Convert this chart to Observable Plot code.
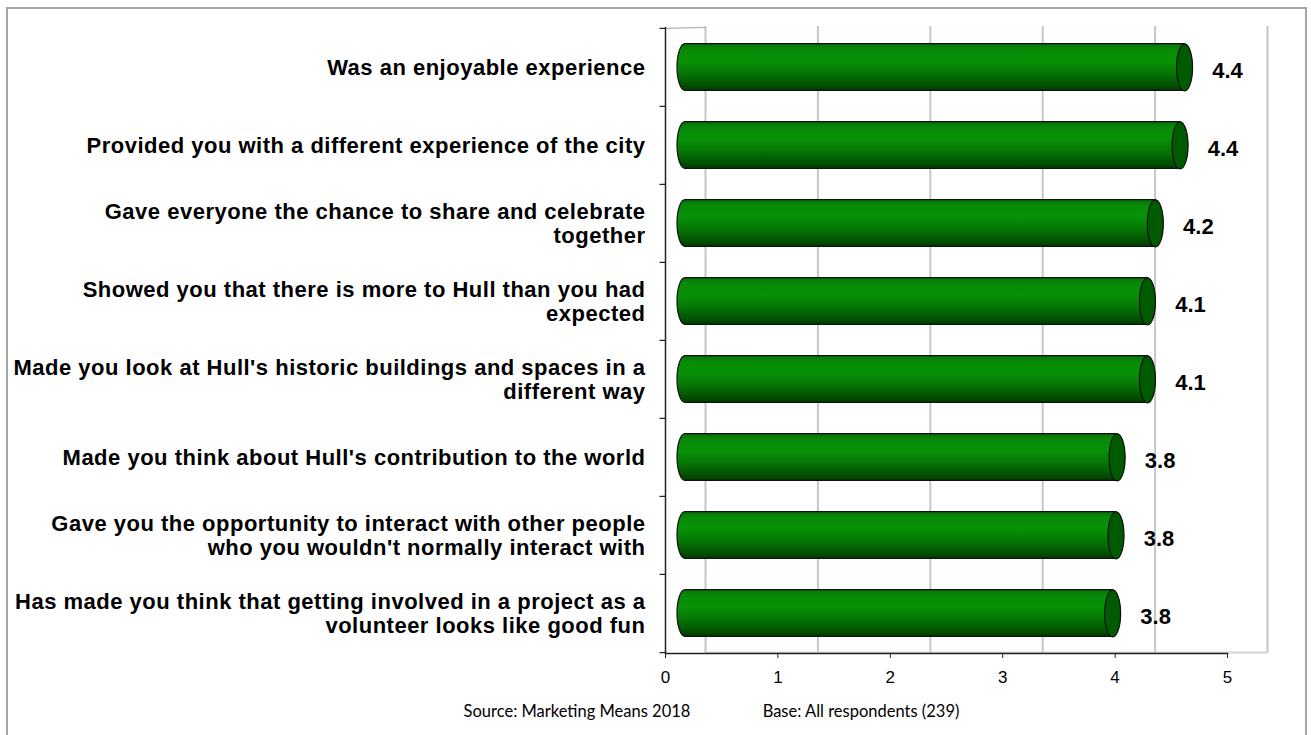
<!DOCTYPE html>
<html>
<head>
<meta charset="utf-8">
<script src="https://cdn.jsdelivr.net/npm/d3@7"></script>
<script src="https://cdn.jsdelivr.net/npm/@observablehq/plot@0.6"></script>
<style>
  html, body { margin: 0; padding: 0; background: #fff; width: 1311px; height: 735px; overflow: hidden; }
  #wrap { position: relative; width: 1311px; height: 735px; }
  #border { position: absolute; left: 6px; top: 7px; width: 1301px; height: 760px; border: 2px solid #a6a6a6; box-sizing: border-box; }
  #chart { position: absolute; left: 0; top: 0; }
  #chart g[aria-label="y-axis tick label"] { letter-spacing: 0.5px; }
  #footer { position: absolute; left: 0; top: 700px; width: 1311px; height: 30px; font-family: Lato, "Open Sans", sans-serif; font-size: 16.5px; color: #000; }
  #footer span { position: absolute; top: 1px; white-space: nowrap; transform: translateX(-50%); }
</style>
</head>
<body>
<div id="wrap">
  <div id="border"></div>
  <div id="chart"></div>
  <div id="footer"><span id="src" style="left:577px">Source: Marketing Means 2018</span><span id="base" style="left:861px">Base: All respondents (239)</span></div>
</div>
<script>
const categories = [
  "Was an enjoyable experience",
  "Provided you with a different experience of the city",
  "Gave everyone the chance to share and celebrate together",
  "Showed you that there is more to Hull than you had expected",
  "Made you look at Hull's historic buildings and spaces in a different way",
  "Made you think about Hull's contribution to the world",
  "Gave you the opportunity to interact with other people who you wouldn't normally interact with",
  "Has made you think that getting involved in a project as a volunteer looks like good fun"
];
const tickLabels = [
  "Was an enjoyable experience",
  "Provided you with a different experience of the city",
  "Gave everyone the chance to share and celebrate\ntogether",
  "Showed you that there is more to Hull than you had\nexpected",
  "Made you look at Hull's historic buildings and spaces in a\ndifferent way",
  "Made you think about Hull's contribution to the world",
  "Gave you the opportunity to interact with other people\nwho you wouldn't normally interact with",
  "Has made you think that getting involved in a project as a\nvolunteer looks like good fun"
];
const values = [4.44, 4.40, 4.18, 4.11, 4.11, 3.84, 3.83, 3.80];
const xTicks = [0, 1, 2, 3, 4, 5];

const data = categories.map((c, i) => ({category: c, value: values[i]}));

const W = 1311, H = 700, mT = 27, mB = 47, mL = 665, mR = 84;
const band = (H - mT - mB) / categories.length;
const depthX = 40, depthY = -1;
const capRx = 8, capRy = 23.5;
const barH = 47;

const ellipse = {
  draw(ctx) {
    const k = 0.5523, a = capRx, b = capRy;
    ctx.moveTo(a, 0);
    ctx.bezierCurveTo(a, k * b, k * a, b, 0, b);
    ctx.bezierCurveTo(-k * a, b, -a, k * b, -a, 0);
    ctx.bezierCurveTo(-a, -k * b, -k * a, -b, 0, -b);
    ctx.bezierCurveTo(k * a, -b, a, -k * b, a, 0);
    ctx.closePath();
  }
};
const sepTick = { draw(ctx) { ctx.moveTo(-6, 0); ctx.lineTo(0, 0); } };
const sideTop = { draw(ctx) { ctx.moveTo(0, 0); ctx.lineTo(depthX, depthY); } };

const chart = Plot.plot({
  width: W, height: H,
  marginTop: mT, marginBottom: mB, marginLeft: mL, marginRight: mR,
  x: {domain: [0, 5]},
  y: {domain: categories, padding: 0, axis: null},
  style: {fontFamily: "'Liberation Sans', Arial, sans-serif", background: "transparent", color: "black"},
  marks: [
    // back wall gridlines
    Plot.ruleX(xTicks, {dx: depthX, dy: depthY, stroke: "#c6c6c6", strokeWidth: 2}),
    Plot.frame({anchor: "bottom", dx: depthX, dy: depthY, stroke: "#d4d4d4", strokeWidth: 2}),
    Plot.dot([categories[0]], {x: () => 0, y: d => d, dy: -band / 2, symbol: sideTop, fill: "none", stroke: "#b0b0b0", strokeWidth: 1.5}),
    // axes lines
    Plot.ruleX([0], {stroke: "#222", strokeWidth: 1.5}),
    Plot.frame({anchor: "bottom", stroke: "#222", strokeWidth: 1.5}),
    Plot.dot(categories, {x: () => 0, y: d => d, dy: -band / 2, symbol: sepTick, fill: "none", stroke: "#222", strokeWidth: 1.2}),
    Plot.dot([categories[categories.length - 1]], {x: () => 0, y: d => d, dy: band / 2, symbol: sepTick, fill: "none", stroke: "#222", strokeWidth: 1.2}),
    Plot.axisX({ticks: xTicks, tickSize: 5, tickPadding: 12, fontSize: 17, tickFormat: d => String(d), label: null, stroke: "#222"}),
    Plot.axisY({tickSize: 0, tickPadding: 20, fontSize: 22, fontWeight: "bold", lineHeight: 1.1,
      tickFormat: d => tickLabels[categories.indexOf(d)], label: null}),
    // cylinders
    Plot.barX(data, {x: "value", y: "category", dx: depthX / 2,
      insetLeft: -capRx, insetRight: -capRx, insetTop: (band - barH) / 2, insetBottom: (band - barH) / 2,
      rx: capRx, ry: capRy, fill: "url(#cyl)", stroke: "#111", strokeWidth: 1.2}),
    Plot.dot(data, {x: "value", y: "category", dx: depthX / 2, symbol: ellipse, fill: "#005a00", stroke: "#111", strokeWidth: 1.2}),
    Plot.text(data, {x: "value", y: "category", text: d => d3.format(".1f")(d.value), dx: 63, dy: 3,
      fontSize: 22, fontWeight: "bold", fill: "black"})
  ]
});

const ns = "http://www.w3.org/2000/svg";
const defs = document.createElementNS(ns, "defs");
defs.innerHTML = `<linearGradient id="cyl" x1="0" y1="0" x2="0" y2="1">
  <stop offset="0" stop-color="#0a6e0a"/>
  <stop offset="0.12" stop-color="#088a08"/>
  <stop offset="0.35" stop-color="#079207"/>
  <stop offset="0.6" stop-color="#057a05"/>
  <stop offset="0.85" stop-color="#035503"/>
  <stop offset="1" stop-color="#013c01"/>
</linearGradient>`;
chart.insertBefore(defs, chart.firstChild);
document.getElementById("chart").appendChild(chart);
</script>
</body>
</html>
